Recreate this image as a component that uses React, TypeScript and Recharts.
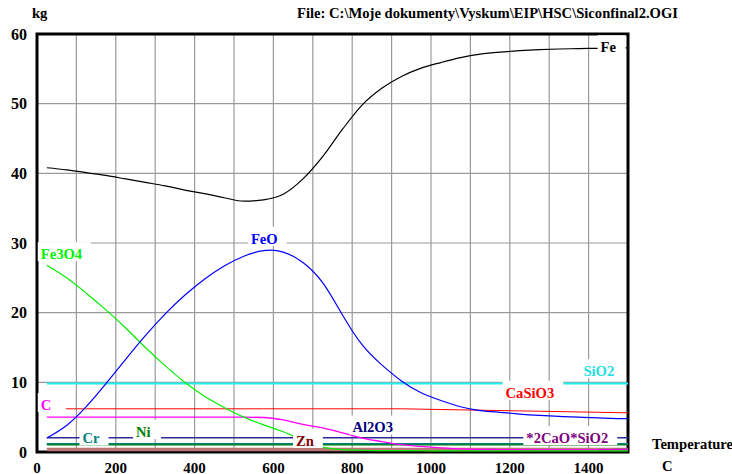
import {
  LineChart,
  Line,
  XAxis,
  YAxis,
  CartesianGrid,
  ReferenceArea,
  ReferenceDot,
} from "recharts";

// temperature, C
const temps = [
  25, 75, 125, 175, 225, 275, 325, 375, 425, 475, 525, 575, 625, 675, 725, 775,
  825, 875, 925, 975, 1025, 1075, 1125, 1175, 1225, 1275, 1325, 1375, 1425, 1475, 1500,
];

// amounts, kg
const fe = [
  40.8, 40.5, 40.1, 39.7, 39.2, 38.7, 38.2, 37.6, 37.1, 36.5, 36.0, 36.2, 37.0, 39.2, 42.4, 46.3,
  49.8, 52.2, 53.9, 55.1, 55.9, 56.6, 57.1, 57.4, 57.6, 57.75, 57.85, 57.9, 57.95, 58.0, 58.0,
];
const feo = [
  2.0, 3.8, 6.5, 9.8, 13.3, 16.7, 19.8, 22.5, 24.8, 26.7, 28.1, 28.9, 28.7, 27.2, 24.3, 19.7,
  15.4, 12.5, 10.2, 8.5, 7.4, 6.5, 5.95, 5.7, 5.45, 5.25, 5.1, 5.0, 4.9, 4.8, 4.78,
];
const fe3o4 = [
  26.8, 25.0, 22.8, 20.4, 17.8, 15.0, 12.4, 10.0, 8.0, 6.4, 5.0, 3.9, 2.9, 1.7, 0.7, 0.35,
  0.25, 0.2, 0.2, 0.18, 0.17, 0.16, 0.15, 0.15, 0.15, 0.15, 0.15, 0.15, 0.15, 0.15, 0.15,
];
const sio2 = [
  9.85, 9.85, 9.85, 9.85, 9.85, 9.85, 9.85, 9.85, 9.85, 9.85, 9.85, 9.85, 9.85, 9.85, 9.85, 9.85,
  9.85, 9.85, 9.85, 9.85, 9.85, 9.85, 9.85, 9.85, 9.85, 9.85, 9.85, 9.85, 9.85, 9.85, 9.85,
];
const casio3 = [
  6.2, 6.2, 6.2, 6.2, 6.2, 6.2, 6.2, 6.2, 6.2, 6.2, 6.2, 6.2, 6.2, 6.2, 6.2, 6.2,
  6.2, 6.2, 6.2, 6.15, 6.1, 6.05, 6.0, 5.95, 5.9, 5.85, 5.8, 5.75, 5.7, 5.65, 5.62,
];
const carbon = [
  5.0, 5.0, 5.0, 5.0, 5.0, 5.0, 5.0, 5.0, 5.0, 5.0, 5.0, 4.95, 4.6, 3.95, 3.45, 2.75,
  2.0, 1.5, 1.05, 0.8, 0.6, 0.45, 0.38, 0.35, 0.32, 0.3, 0.3, 0.3, 0.3, 0.3, 0.3,
];
const al2o3 = [
  2.05, 2.05, 2.05, 2.05, 2.05, 2.05, 2.05, 2.05, 2.05, 2.05, 2.05, 2.05, 2.05, 2.05, 2.05, 2.05,
  2.05, 2.05, 2.05, 2.05, 2.05, 2.05, 2.05, 2.05, 2.05, 2.05, 2.05, 2.05, 2.05, 2.05, 2.05,
];
const ni = [
  1.12, 1.12, 1.12, 1.12, 1.12, 1.12, 1.12, 1.12, 1.12, 1.12, 1.12, 1.12, 1.12, 1.12, 1.12, 1.12,
  1.12, 1.12, 1.12, 1.12, 1.12, 1.12, 1.12, 1.12, 1.12, 1.12, 1.12, 1.12, 1.12, 1.12, 1.12,
];
const cr = [
  1.18, 1.18, 1.18, 1.18, 1.18, 1.18, 1.18, 1.18, 1.18, 1.18, 1.18, 1.18, 1.18, 1.18, 1.18, 1.18,
  1.18, 1.18, 1.18, 1.18, 1.18, 1.18, 1.18, 1.18, 1.18, 1.18, 1.18, 1.18, 1.18, 1.18, 1.18,
];
const zn = [
  0.35, 0.35, 0.35, 0.35, 0.35, 0.35, 0.35, 0.35, 0.35, 0.35, 0.35, 0.35, 0.35, 0.35, 0.35, 0.35,
  0.35, 0.35, 0.35, 0.35, 0.35, 0.35, 0.35, 0.35, 0.35, 0.35, 0.35, 0.35, 0.35, 0.35, 0.35,
];
const ca2sio4 = [
  null, null, null, null, null, null, null, null, null, null, null, null, null, null, null, null,
  null, null, null, null, null, null, null, null, null, null, null, null, 0.3, 0.35, 0.35,
];

const xTicks = [0, 100, 200, 300, 400, 500, 600, 700, 800, 900, 1000, 1100, 1200, 1300, 1400, 1500];
const yTicks = [0, 10, 20, 30, 40, 50, 60];

// curve labels, placed in data units
const tagNames = ["Fe", "FeO", "Fe3O4", "SiO2", "CaSiO3", "C", "Cr", "Ni", "Al2O3", "Zn", "*2CaO*SiO2"];
const tagTemps = [1450, 577, 62, 1426, 1251, 23, 137, 270, 852, 680, 1346];
const tagValues = [58.1, 30.6, 28.4, 11.6, 8.5, 6.75, 1.94, 2.87, 3.5, 1.58, 2.0];
const tagColors = [
  "#000000", "#0000ff", "#00f000", "#22e0e0", "#ff0000", "#ff00ff",
  "#008080", "#008000", "#000080", "#800000", "#800080",
];

const rows = temps.map((t, i) => ({
  t,
  fe: fe[i],
  feo: feo[i],
  fe3o4: fe3o4[i],
  sio2: sio2[i],
  casio3: casio3[i],
  carbon: carbon[i],
  al2o3: al2o3[i],
  ni: ni[i],
  cr: cr[i],
  zn: zn[i],
  ca2sio4: ca2sio4[i],
}));

const serif = "'Liberation Serif', 'Times New Roman', serif";
const tagFont = 14.6;

let ctx: CanvasRenderingContext2D | null = null;
function textWidth(s: string) {
  if (!ctx) ctx = document.createElement("canvas").getContext("2d");
  if (!ctx) return s.length * tagFont * 0.55;
  ctx.font = `bold ${tagFont}px ${serif}`;
  return ctx.measureText(s).width;
}

function Tag({ cx, cy, text, color }: { cx: number; cy: number; text: string; color: string }) {
  const w = textWidth(text);
  const left = cx - w / 2 - 3;
  return (
    <g>
      <rect x={left} y={cy - 12} width={Math.max(w + 12, 28)} height={19} fill="#fff" />
      <text
        x={cx}
        y={cy}
        dy="0.33em"
        textAnchor="middle"
        fill={color}
        fontFamily={serif}
        fontWeight="bold"
        fontSize={tagFont}
      >
        {text}
      </text>
    </g>
  );
}

export default function App() {
  const tick = { fill: "#000", fontFamily: serif, fontWeight: "bold" };

  return (
    <div
      style={{
        position: "absolute",
        left: 0,
        top: 0,
        width: 732,
        height: 474,
        background: "#fff",
        overflow: "hidden",
      }}
    >
      <LineChart
        width={732}
        height={474}
        data={rows}
        margin={{ top: 34, right: 104, bottom: 0, left: 0 }}
      >
        <CartesianGrid stroke="#9a9a9a" strokeWidth={1.2} />
        <XAxis
          type="number"
          dataKey="t"
          domain={[0, 1500]}
          ticks={xTicks}
          interval={0}
          allowDataOverflow
          tickLine={false}
          axisLine={false}
          tickMargin={4}
          height={22}
          tick={{ ...tick, fontSize: 15 }}
          tickFormatter={(v: number) => (v % 200 === 0 && v < 1500 ? String(v) : "")}
        />
        <YAxis
          type="number"
          domain={[0, 60]}
          ticks={yTicks}
          interval={0}
          allowDataOverflow
          tickLine={false}
          axisLine={false}
          tickMargin={4}
          width={37}
          tick={{ ...tick, fontSize: 16 }}
        />
        <ReferenceArea
          x1={0}
          x2={1500}
          y1={0}
          y2={60}
          fill="none"
          stroke="#000"
          strokeWidth={3}
          ifOverflow="visible"
        />

        <Line dataKey="zn" stroke="#bc7676" strokeWidth={3.5} dot={false} isAnimationActive={false} />
        <Line dataKey="ca2sio4" stroke="#800080" strokeWidth={1.5} dot={false} isAnimationActive={false} />
        <Line dataKey="ni" stroke="#008000" strokeWidth={2.5} dot={false} isAnimationActive={false} />
        <Line dataKey="cr" stroke="#008080" strokeWidth={1.5} dot={false} isAnimationActive={false} />
        <Line dataKey="al2o3" stroke="#2a2a9a" strokeWidth={1.5} dot={false} isAnimationActive={false} />
        <Line dataKey="sio2" stroke="#22f0f0" strokeWidth={2} dot={false} isAnimationActive={false} />
        <Line dataKey="casio3" stroke="#ff0000" strokeWidth={1} dot={false} isAnimationActive={false} />
        <Line type="monotone" dataKey="carbon" stroke="#ff00ff" strokeWidth={1.3} dot={false} isAnimationActive={false} />
        <Line type="monotone" dataKey="fe3o4" stroke="#00ee00" strokeWidth={1.2} dot={false} isAnimationActive={false} />
        <Line type="natural" dataKey="feo" stroke="#0000ff" strokeWidth={1.2} dot={false} isAnimationActive={false} />
        <Line type="monotone" dataKey="fe" stroke="#000000" strokeWidth={1.2} dot={false} isAnimationActive={false} />

        {tagNames.map((name, i) => (
          <ReferenceDot
            key={name}
            x={tagTemps[i]}
            y={tagValues[i]}
            r={0}
            ifOverflow="visible"
            shape={(p: any) => <Tag cx={p.cx} cy={p.cy} text={name} color={tagColors[i]} />}
          />
        ))}
      </LineChart>

      <svg
        width={732}
        height={474}
        style={{ position: "absolute", left: 0, top: 0, pointerEvents: "none" }}
      >
        <g fontFamily={serif} fontWeight="bold" fontSize={14.6} fill="#000">
          <text x={32} y={18}>kg</text>
          <text x={297} y={18}>File: C:\Moje dokumenty\Vyskum\EIP\HSC\Siconfinal2.OGI</text>
          <text x={652} y={449}>Temperature</text>
          <text x={662} y={471}>C</text>
        </g>
      </svg>
    </div>
  );
}
